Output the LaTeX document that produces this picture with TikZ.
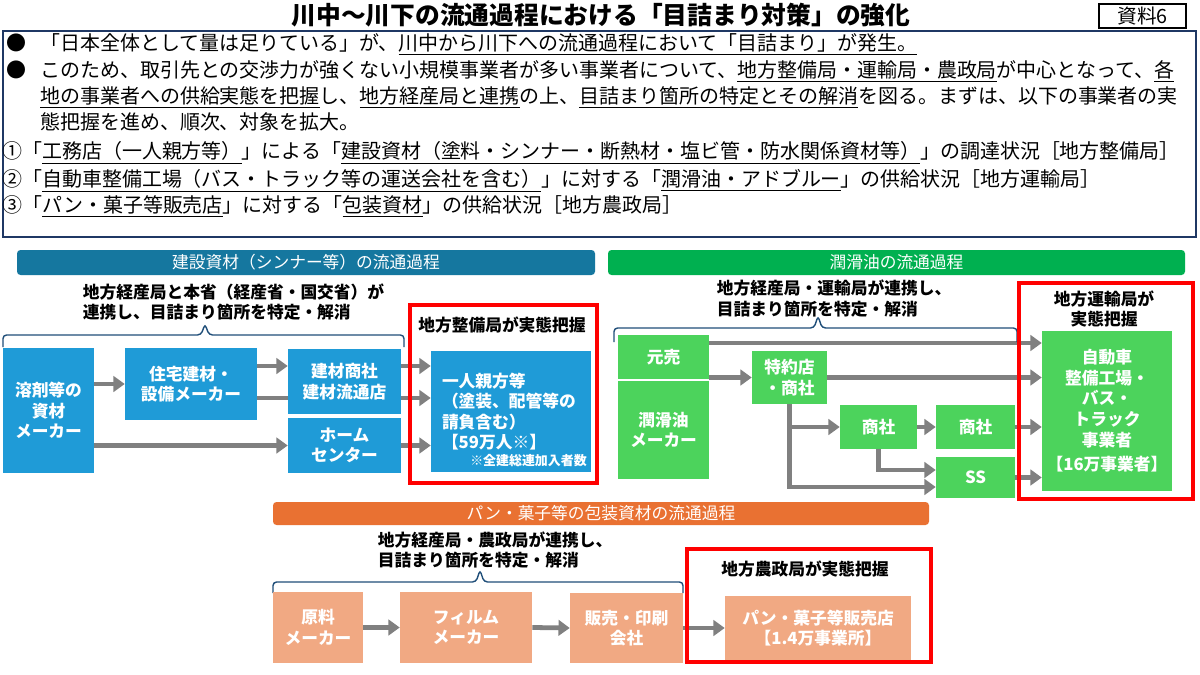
\documentclass[tikz,border=0pt]{standalone}
\usepackage{fontspec}
\setmainfont{Noto Sans CJK JP}
\usepackage{xcolor}
\usepackage{tikz}
\usetikzlibrary{arrows.meta}
\definecolor{KSBlue}{HTML}{1F9BD7}
\definecolor{KSBar}{HTML}{15779F}
\definecolor{JKGreen}{HTML}{4CD35C}
\definecolor{JKBar}{HTML}{00B050}
\definecolor{HSPeach}{HTML}{F1A983}
\definecolor{HSBar}{HTML}{E97132}
\definecolor{FlowGray}{HTML}{808080}
\definecolor{BraceBlue}{HTML}{1F4E79}
\definecolor{FrameNavy}{HTML}{1F3864}
\newlength{\pxu}\setlength{\pxu}{0.025cm}
\newcommand{\topfont}{\fontsize{14.2}{17}\selectfont}
\newcommand{\diagfont}{\bfseries\fontsize{11.9}{14.6}\selectfont}
\pgfdeclarelayer{background}
\pgfsetlayers{background,main}

\begin{document}
\begin{tikzpicture}[x=0.025cm,y=-0.025cm,
  flowbox/.style={inner sep=0pt,align=center,text=white,font=\diagfont},
  headbar/.style={rounded corners=2.5pt,inner sep=0pt,minimum height=25\pxu,text=white,font=\fontsize{11.9}{14}\selectfont},
  flow/.style={FlowGray,line width=3.4pt,-{Triangle[length=8pt,width=11pt]}},
  bracket/.style={BraceBlue,line width=1pt,rounded corners=2.5pt},
  redframe/.style={red,line width=2.2pt},
  notetext/.style={align=left,font=\diagfont},
  line/.style={anchor=base west,font=\topfont,inner sep=0pt}]
\path[use as bounding box] (0,0) rectangle (1200,675);

% title and frame
\node (title) at (601,15) {\bfseries\fontsize{17.6}{20}\selectfont 川中～川下の流通過程における「目詰まり対策」の強化};
\node[draw,line width=0.8pt,minimum width=87\pxu,minimum height=24\pxu,inner sep=0pt] (shiryo) at (1142.5,16) {\fontsize{14}{16}\selectfont 資料6};
\draw[FrameNavy,line width=1.2pt] (3,31) rectangle (1196,237);

\node[line] (dot1) at (6,51) {●};
\node[line] (line1) at (40,51) {「日本全体として量は足りている」が、\underline{川中から川下への流通過程において「目詰まり」が発生。}};
\node[line] (dot2) at (6,78) {●};
\node[line] (line2) at (40,78) {このため、取引先との交渉力が強くない小規模事業者が多い事業者について、\underline{地方整備局・運輸局・農政局}が中心となって、\underline{各}};
\node[line] (line3) at (40,104) {\underline{地の事業者への供給実態を把握}し、\underline{地方経産局と連携}の上、\underline{目詰まり箇所の特定とその解消}を図る。まずは、以下の事業者の実};
\node[line] (line4) at (40,130) {態把握を進め、順次、対象を拡大。};
\node[line] (line5) at (2,159) {①「\underline{工務店（一人親方等）}」による「\underline{建設資材（塗料・シンナー・断熱材・塩ビ管・防水関係資材等）}」の調達状況［地方整備局］};
\node[line] (line6) at (2,187) {②「\underline{自動車整備工場（バス・トラック等の運送会社を含む）}」に対する「\underline{潤滑油・アドブルー}」の供給状況［地方運輸局］};
\node[line] (line7) at (2,213) {③「\underline{パン・菓子等販売店}」に対する「\underline{包装資材}」の供給状況［地方農政局］};

% construction materials
\node[headbar,fill=KSBar,minimum width=578\pxu] (ksbar) at (306,262.5) {建設資材（シンナー等）の流通過程};
\node[notetext,anchor=west] (ksnote) at (78,302) {地方経産局と本省（経産省・国交省）が\\連携し、目詰まり箇所を特定・解消};
\draw[bracket] (3,347) -- (3,335) -- (201,335) -- (205,324) -- (209,335) -- (404,335) -- (404,347);
\draw[redframe] (410,305) rectangle (597,483);
\node[font=\diagfont] (kslabel) at (502,325) {地方整備局が実態把握};
\node[flowbox,fill=KSBlue,minimum width=91\pxu,minimum height=125\pxu] (yozai) at (48.5,410.5) {溶剤等の\\資材\\メーカー};
\node[flowbox,fill=KSBlue,minimum width=132\pxu,minimum height=72\pxu] (jutaku) at (191,384) {住宅建材・\\設備メーカー};
\node[flowbox,fill=KSBlue,minimum width=113\pxu,minimum height=65\pxu] (kenzai) at (344.5,381.5) {建材商社\\建材流通店};
\node[flowbox,fill=KSBlue,minimum width=113\pxu,minimum height=55\pxu] (home) at (344.5,445.5) {ホーム\\センター};
\node[flowbox,fill=KSBlue,minimum width=160\pxu,minimum height=121\pxu,text width=138\pxu,align=left] (oyakata) at (511,411.5) {一人親方等\\（塗装、配管等の\\請負含む）\\【59万人※】};
\node[anchor=east,inner sep=0pt,text=white,font=\bfseries\fontsize{9.2}{11}\selectfont] (oyanote) at (587,461) {※全建総連加入者数};

% lubricant
\node[headbar,fill=JKBar,minimum width=577\pxu] (jkbar) at (896.5,262.5) {潤滑油の流通過程};
\node[notetext,anchor=west] (jknote) at (712,298.5) {地方経産局・運輸局が連携し、\\目詰まり箇所を特定・解消};
\draw[bracket] (614,342) -- (614,328) -- (814,328) -- (818,316) -- (822,328) -- (1017,328) -- (1017,342);
\draw[redframe] (1019,283) rectangle (1193,499);
\node[notetext,align=center] (jklabel) at (1104,309) {地方運輸局が\\実態把握};
\node[flowbox,fill=JKGreen,minimum width=91\pxu,minimum height=44\pxu] (motouri) at (663.5,357) {元売};
\node[flowbox,fill=JKGreen,minimum width=91\pxu,minimum height=98\pxu] (junkatsu) at (663.5,430) {潤滑油\\メーカー};
\node[flowbox,fill=JKGreen,minimum width=75\pxu,minimum height=53\pxu] (tokuyaku) at (789.5,377.5) {特約店\\・商社};
\node[flowbox,fill=JKGreen,minimum width=77\pxu,minimum height=44\pxu] (shosha1) at (878.5,427) {商社};
\node[flowbox,fill=JKGreen,minimum width=79\pxu,minimum height=44\pxu] (shosha2) at (975.5,427) {商社};
\node[flowbox,fill=JKGreen,minimum width=79\pxu,minimum height=41\pxu] (ss) at (975.5,477.5) {SS};
\node[flowbox,fill=JKGreen,minimum width=130\pxu,minimum height=160\pxu] (jidosha) at (1107,411) {自動車\\整備工場・\\バス・\\トラック\\事業者\\[3pt]【16万事業者】};

% packaging
\node[headbar,fill=HSBar,minimum width=656\pxu,minimum height=23\pxu] (hsbar) at (601,513.5) {パン・菓子等の包装資材の流通過程};
\node[notetext,anchor=west] (hsnote) at (373,550) {地方経産局・農政局が連携し、\\目詰まり箇所を特定・解消};
\draw[bracket] (273,593) -- (273,582) -- (476,582) -- (480,570) -- (484,582) -- (683,582) -- (683,593);
\draw[redframe] (687,549) rectangle (931,662);
\node[font=\diagfont] (hslabel) at (805,569) {地方農政局が実態把握};
\node[flowbox,fill=HSPeach,minimum width=90\pxu,minimum height=71\pxu] (genryo) at (318,627.5) {原料\\メーカー};
\node[flowbox,fill=HSPeach,minimum width=132\pxu,minimum height=71\pxu] (film) at (466,627.5) {フィルム\\メーカー};
\node[flowbox,fill=HSPeach,minimum width=113\pxu,minimum height=70\pxu] (hanbai) at (626.5,628) {販売・印刷\\会社};
\node[flowbox,fill=HSPeach,minimum width=186\pxu,minimum height=64\pxu] (pan) at (818,628) {パン・菓子等販売店\\【1.4万事業所】};

\begin{pgfonlayer}{background}
\fill[white] (0,0) rectangle (1200,675);
\draw[flow] (yozai.east |- jutaku.west) -- (jutaku.west);
\draw[flow] (jutaku.east |- 0,366) -- (kenzai.west |- 0,366);
\draw[flow] (jutaku.east |- 0,398) -- (oyakata.west |- 0,398);
\draw[flow] (kenzai.east |- 0,366) -- (oyakata.west |- 0,366);
\draw[flow] (yozai.east |- home.west) -- (home.west);
\draw[flow] (home.east) -- (oyakata.west |- home.east);
\draw[flow] (motouri.east |- 0,343) -- (jidosha.west |- 0,343);
\draw[flow] (motouri.east |- tokuyaku.west) -- (tokuyaku.west);
\draw[flow] (tokuyaku.east) -- (jidosha.west |- tokuyaku.east);
\draw[flow] (tokuyaku.south) |- (shosha1.west);
\draw[flow] (tokuyaku.south) |- (ss.west |- 0,487);
\draw[flow] (shosha1.east) -- (shosha2.west);
\draw[flow] (shosha2.east) -- (jidosha.west |- shosha2.east);
\draw[flow] (shosha1.south) |- (ss.west |- 0,470);
\draw[flow] (ss.east) -- (jidosha.west |- ss.east);
\draw[flow] (genryo.east) -- (film.west);
\draw[flow] (film.east) -- (hanbai.west);
\draw[flow] (hanbai.east) -- (pan.west |- hanbai.east);
\end{pgfonlayer}
\end{tikzpicture}
\end{document}
